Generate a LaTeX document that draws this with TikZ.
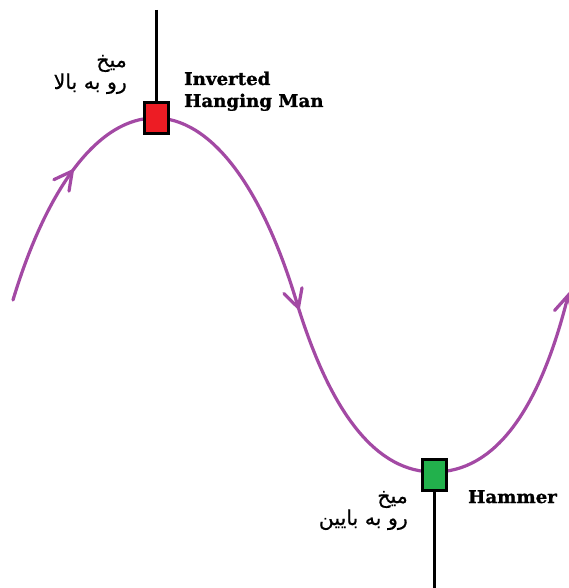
\documentclass[tikz,border=0pt]{standalone}
\usepackage{fontspec}
\usetikzlibrary{arrows.meta,decorations.markings}
\TeXXeTstate=1
\newfontfamily\arabicfont[Script=Arabic,FakeBold=0.6]{DejaVu Sans}
\newfontfamily\labelfont[FakeBold=1.2,FakeStretch=1.04]{DejaVu Serif Bold}
\definecolor{wavepurple}{RGB}{163,73,164}
\definecolor{candlered}{RGB}{237,28,36}
\definecolor{candlegreen}{RGB}{34,177,76}
\tikzset{
  barb/.tip={Straight Barb[length=18pt,width=19pt,line cap=round]},
  wave/.style={draw=wavepurple,line width=3.2pt,line cap=round},
  candle/.style={draw=black,line width=3pt,minimum width=24pt,minimum height=31pt,inner sep=0pt,outer sep=0pt},
  wick/.style={draw=black,line width=3pt},
  entxt/.style={font=\labelfont\fontsize{17.5}{20}\selectfont,inner sep=0pt,anchor=base west},
  fatxt/.style={font=\arabicfont\fontsize{20.5}{24}\selectfont,inner sep=0pt,anchor=base east},
}
\begin{document}
\begin{tikzpicture}[x=1pt,y=-1pt]
\useasboundingbox[fill=white] (0,0) rectangle (568,588);
% wave
\coordinate (w0) at (13,300);
\coordinate (w1) at (155,118);
\coordinate (w2) at (296,300);
\coordinate (w3) at (434,472);
\coordinate (w4) at (569,292);
\draw[wave,
  postaction={decorate},
  decoration={markings,
    mark=at position 146pt with {\arrow[wavepurple,line width=3.2pt]{barb}},
    mark=at position 500pt with {\arrow[wavepurple,line width=3.2pt]{barb}}},
  -{barb}]
  (w0) .. controls (48,184) and (100,118) .. (w1)
       .. controls (210,118) and (261,184.5) .. (w2)
       .. controls (332,419) and (379,472) .. (w3)
       .. controls (494,472) and (539,412) .. (w4);
% candles
\node[candle,fill=candlered] (red) at (156,118) {};
\node[candle,fill=candlegreen] (green) at (434.5,475) {};
\coordinate (rtop) at (156,10);
\coordinate (gbot) at (434.5,590);
\draw[wick] (rtop) -- (red.north);
\draw[wick] (green.south) -- (gbot);
% labels
\node[entxt] (inv1) at (184,85) {Inverted};
\node[entxt] (inv2) at (184,107) {Hanging Man};
\node[entxt] (ham) at (468,503) {Hammer};
\node[fatxt] (fa1) at (127,67) {\beginR میخ\endR};
\node[fatxt] (fa2) at (127,89) {\beginR رو به بالا\endR};
\node[fatxt] (fa3) at (408,503) {\beginR میخ\endR};
\node[fatxt] (fa4) at (408,525) {\beginR رو به بایین\endR};
\end{tikzpicture}
\end{document}
